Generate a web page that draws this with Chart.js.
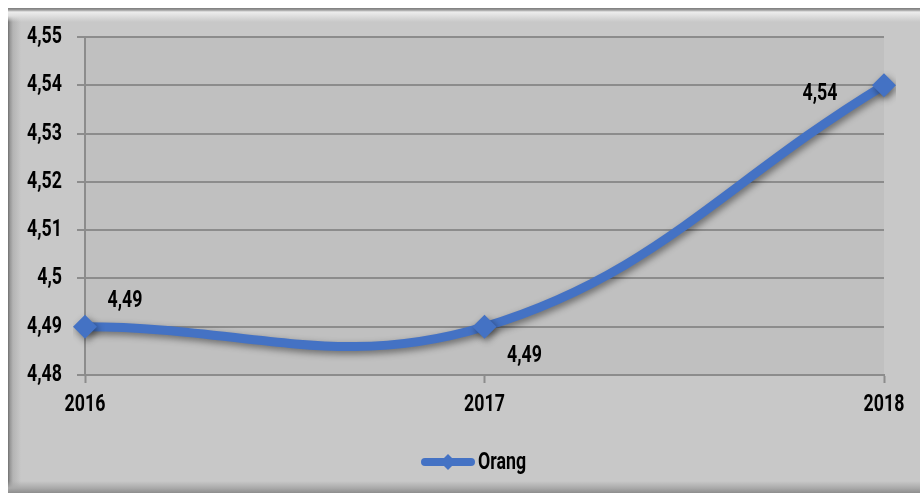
<!DOCTYPE html>
<html>
<head>
<meta charset="utf-8">
<script src="https://cdn.jsdelivr.net/npm/chart.js@4/dist/chart.umd.min.js"></script>
<style>
  html, body { margin: 0; padding: 0; background: #ffffff; }
  body { width: 920px; height: 493px; position: relative; overflow: hidden; }
  #frame {
    position: absolute; left: 8px; top: 8px; width: 930px; height: 485px;
    background:
      linear-gradient(to bottom, #7c7c7c 0, #9c9c9c 2px, #ececec 4px, #dedede 8px, rgba(200,200,200,0) 14px) top left / 100% 14px no-repeat,
      linear-gradient(to top, #8e8e8e 0, #aaaaaa 5px, rgba(200,200,200,0) 12px) bottom left / 100% 12px no-repeat,
      linear-gradient(to right, #707070 0, #979797 2px, #b4b4b4 5px, rgba(200,200,200,0) 13px) top left / 13px 100% no-repeat,
      #c8c8c8;
  }
  #chart { position: absolute; left: 0; top: 0; }
</style>
</head>
<body>
<div id="frame"></div>
<canvas id="chart" width="920" height="493"></canvas>
<script>
const years = ["2016", "2017", "2018"];
const orang = [4.49, 4.49, 4.54];
const seriesName = "Orang";

const blue = "#4472C4";
const fontFamily = "Roboto, 'DejaVu Sans', sans-serif";
const fontSize = 24;
const squeeze = 0.74;   // horizontal squeeze for the narrow bold lettering

function comma(v) {
  return (Math.round(v * 100) / 100).toString().replace(".", ",");
}

const canvas = document.getElementById("chart");
const ctx2d = canvas.getContext("2d");

// every text drawn on this canvas comes out condensed
const plainFillText = ctx2d.fillText;
ctx2d.fillText = function (text, x, y, maxWidth) {
  this.save();
  this.translate(x, y);
  this.scale(squeeze, 1);
  if (maxWidth === undefined) plainFillText.call(this, text, 0, 0);
  else plainFillText.call(this, text, 0, 0, maxWidth / squeeze);
  this.restore();
};

// soft drop shadow under the line and markers
const shadowPlugin = {
  id: "lineShadow",
  beforeDatasetDraw(chart) {
    const ctx = chart.ctx;
    ctx.save();
    ctx.shadowColor = "rgba(0,0,0,0.45)";
    ctx.shadowBlur = 7;
    ctx.shadowOffsetX = 2;
    ctx.shadowOffsetY = 3;
  },
  afterDatasetDraw(chart) {
    chart.ctx.restore();
  }
};

// value labels next to each point
const valueLabels = {
  id: "valueLabels",
  afterDatasetsDraw(chart, args, opts) {
    const ctx = chart.ctx;
    const meta = chart.getDatasetMeta(0);
    ctx.save();
    ctx.font = "bold " + fontSize + "px " + fontFamily;
    ctx.fillStyle = "#000";
    ctx.textAlign = "center";
    ctx.textBaseline = "middle";
    meta.data.forEach((pt, i) => {
      const off = opts.offsets[i];
      ctx.fillText(comma(chart.data.datasets[0].data[i]), pt.x + off[0], pt.y + off[1]);
    });
    ctx.restore();
  }
};

// legend under the axis: line with diamond, then the series name
const lineLegend = {
  id: "lineLegend",
  afterDraw(chart, args, opts) {
    const ctx = chart.ctx;
    const ds = chart.data.datasets[0];
    const cx = opts.x, cy = opts.y;
    ctx.save();
    ctx.strokeStyle = ds.borderColor;
    ctx.lineWidth = 8;
    ctx.lineCap = "round";
    ctx.beginPath(); ctx.moveTo(cx - 23, cy); ctx.lineTo(cx + 23, cy); ctx.stroke();
    ctx.fillStyle = ds.borderColor;
    ctx.beginPath();
    ctx.moveTo(cx, cy - 8); ctx.lineTo(cx + 8, cy); ctx.lineTo(cx, cy + 8); ctx.lineTo(cx - 8, cy);
    ctx.closePath(); ctx.fill();
    ctx.font = "bold " + fontSize + "px " + fontFamily;
    ctx.fillStyle = "#000";
    ctx.textAlign = "left";
    ctx.textBaseline = "middle";
    ctx.fillText(ds.label, cx + 30, cy + 1);
    ctx.restore();
  }
};

new Chart(canvas, {
  type: "line",
  data: {
    labels: years,
    datasets: [{
      label: seriesName,
      data: orang,
      borderColor: blue,
      backgroundColor: blue,
      borderWidth: 9,
      tension: 0.4,
      pointStyle: "rectRot",
      pointRadius: 12,
      pointHoverRadius: 12,
      pointBorderWidth: 0,
      pointBackgroundColor: blue
    }]
  },
  options: {
    responsive: false,
    animation: false,
    events: [],
    devicePixelRatio: 1,
    layout: { padding: { left: 0, right: 36, top: 37, bottom: 60 } },
    scales: {
      x: {
        offset: false,
        grid: { display: true, drawOnChartArea: false, tickLength: 8, color: "#8c8c8c", tickColor: "#8c8c8c", tickWidth: 2 },
        border: { display: true, color: "#8c8c8c", width: 2 },
        ticks: { color: "#000", padding: 8, maxRotation: 0, font: { family: fontFamily, size: fontSize, weight: "bold" } },
        afterFit(scale) { scale.height = 58; }
      },
      y: {
        min: 4.48,
        max: 4.55,
        ticks: {
          stepSize: 0.01,
          color: "#000",
          padding: 15,
          font: { family: fontFamily, size: fontSize, weight: "bold" },
          callback: v => comma(v)
        },
        grid: { color: "#8c8c8c", lineWidth: 2, tickLength: 8 },
        border: { display: true, color: "#8c8c8c", width: 2 },
        afterFit(scale) { scale.width = 85; }
      }
    },
    plugins: {
      legend: { display: false },
      tooltip: { enabled: false },
      valueLabels: { offsets: [[40, -26], [40, 29], [-64, 9]] },
      lineLegend: { x: 448, y: 462 }
    }
  },
  plugins: [shadowPlugin, valueLabels, lineLegend, {
    id: "plotBg",
    beforeDraw(chart) {
      const a = chart.chartArea, ctx = chart.ctx;
      ctx.save();
      ctx.fillStyle = "#c0c0c0";
      ctx.fillRect(a.left, a.top, a.right - a.left, a.bottom - a.top);
      ctx.restore();
    }
  }]
});
</script>
</body>
</html>
